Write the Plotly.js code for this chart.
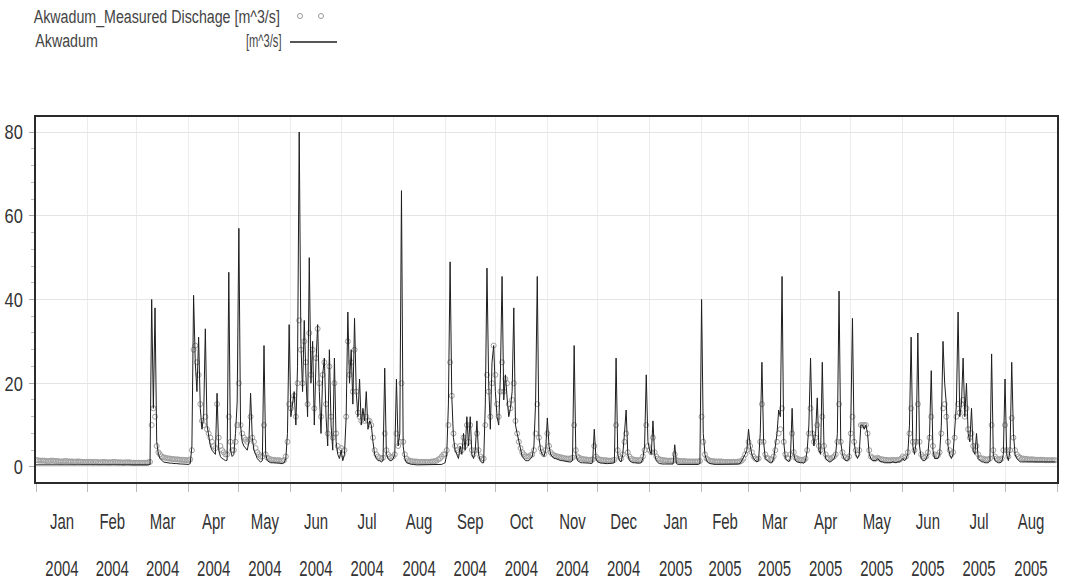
<!DOCTYPE html>
<html><head><meta charset="utf-8">
<script src="https://cdn.plot.ly/plotly-3.0.1.min.js"></script>
<style>html,body{margin:0;padding:0;background:#fff;}#chart{width:1065px;height:586px;}</style>
</head><body><div id="chart"></div>
<script>
// Daily discharge [m^3/s], one inner array per month (Jan..Dec 2004, Jan..Aug 2005)
const simQ2004 = [
 [0.5,0.5,0.5,0.5,0.5,0.5,0.5,0.5,0.5,0.5,0.5,0.5,0.5,0.4,0.4,0.4,0.4,0.4,0.4,0.4,0.4,0.4,0.4,0.4,0.4,0.4,0.4,0.4,0.4,0.4,0.4],
 [0.4,0.4,0.4,0.4,0.4,0.4,0.4,0.4,0.4,0.4,0.4,0.4,0.4,0.4,0.4,0.4,0.4,0.4,0.4,0.4,0.4,0.4,0.4,0.4,0.4,0.4,0.4,0.4,0.4],
 [0.4,0.4,0.4,0.4,0.4,0.4,0.4,0.5,0.6,40,14,38,6,3,2,1.5,1.2,1.1,1,1,0.9,0.9,0.8,0.8,0.8,0.7,0.7,0.7,0.7,0.6,0.6],
 [0.6,0.8,5,41,25,18,31,14,9,12,33,10,7,5,4,3.5,3,17.6,4,2.5,2,1.8,1.5,1.6,46.5,4,2.5,3,8,15.5],
 [57,10,6,5,4.5,4,6,17.6,7,4,3,2,1.5,1.2,1.5,29,3,1.5,1.2,1,1,1,0.9,1,0.9,0.8,0.8,1,2,8,34],
 [12,15,18,10,24,80,30,18,35,22,12,50,20,30,10,25,34,18,8,22,26,12,5,28,10,4,26,6,3,2],
 [4,1.5,3,12,37,20,28,15,35.5,18,12,21,10,14,11,18,9,11,10,6,3,2,1.5,1.5,1.2,1.5,23.6,3,2,1.5,1.5],
 [2,3,21,5,8,66,5,2,1,0.8,0.7,0.6,0.6,0.5,0.5,0.5,0.5,0.5,0.5,0.5,0.5,0.5,0.5,0.5,0.5,0.5,0.5,0.5,0.6,0.6,0.8],
 [1,3,15,49,17,7,4,3,2,5,3,8,4,12,5,12,3,2,4,11,3,1.5,1,1,15,47.5,20,9,25,29],
 [18,12,10,22,45.5,16,22,16.5,12,14,18,38,10,8,6,4,2.5,2,1.5,1.5,1.5,2,2.5,5,15.5,45.5,7,4,3,2.5,4],
 [11.7,5,3,2.5,2,2,1.8,1.6,1.5,1.5,1.4,1.3,1.3,1.2,1.2,1.5,29,3,1.5,1.2,1,1,1,0.9,0.9,0.9,0.8,1,9,2],
 [1.2,1,0.9,0.9,0.8,0.8,0.8,0.8,0.8,0.9,1,26,3,1.5,1.2,3,8,13.6,3,1.5,1.2,1,1,0.9,0.9,0.9,1,2,5,22,6]
];
const simQ2005 = [
 [4,3,11,3,1.5,1,0.8,0.7,0.7,0.7,0.7,0.7,0.7,0.7,0.7,5.3,0.8,0.6,0.6,0.6,0.6,0.6,0.6,0.6,0.6,0.6,0.6,0.6,0.6,0.6,0.8],
 [40,8,3,1.5,1,0.8,0.7,0.7,0.6,0.6,0.6,0.6,0.6,0.6,0.6,0.6,0.6,0.6,0.6,0.6,0.6,0.6,0.7,0.8,1.5,2,3,4],
 [9,5,3,2,1.5,1.2,1.5,8,25,6,2,1.5,1.2,1,1,2,4.5,8,13.6,12,45.5,6,2,1.5,1.2,2,14,3,1.5,1.2,1],
 [1,1,0.9,1.5,4,10,26,9,5,8,16.5,4,3,25,5,2,1.5,1.2,1.2,1.5,2,3,8,42,6,3,2,1.5,1.5,2],
 [10,35.5,6,3,2,3,10,10,9,10,8,3,2,1.5,1.5,1.5,2,1.5,1.2,1.2,1,1,1,1,1,1.2,1,1,1.2,1.2,1.5],
 [2,1.5,2,3,10,31,5,3,6,32,5,2,1.5,1.5,2,3,8,23,4,2,2,2,3,10,30,20,15,5,3,2],
 [3,8,15,37,12,15,26,12,20,8,6,14,4,3,8,2,1.5,1.2,1.2,1,1,1,1.5,27,3,1.5,1.2,1,1,1.2,3],
 [21,3,1.5,4,25,8,3,2,1.5,1.2,1.2,1.2,1.2,1.2,1.2,1.2,1.2,1.2,1.2,1.2,1.2,1.2,1.2,1.2,1.2,1.2,1.2,1.2,1.2,1.2,1.2]
];
const obsQ2004 = [
 [1.6,1.6,1.5,1.5,1.5,1.5,1.4,1.4,1.4,1.5,1.5,1.4,1.4,1.4,1.3,1.3,1.3,1.4,1.4,1.3,1.3,1.3,1.3,1.2,1.3,1.3,1.3,1.2,1.2,1.2,1.2],
 [1.2,1.2,1.2,1.1,1.2,1.2,1.1,1.1,1.1,1.2,1.2,1.1,1.1,1.1,1.1,1.2,1.2,1.1,1.1,1.1,1.1,1.0,1.1,1.1,1.1,1.1,1.0,1.0,1.0],
 [1.0,1.0,1.0,1.0,1.0,1.0,1.0,1.1,1.2,10,14,12,5,3.5,3,2.5,2.3,2.2,2.1,2,2,1.9,1.9,1.8,1.8,1.8,1.7,1.7,1.7,1.6,1.6],
 [1.6,1.8,4,28,29,25,22,15,11,10,12,9,8,7,6,5,4.5,15,7,5,4,3.5,3,3,12,6,4,4,6,10],
 [20,10,8,7,6.5,6,6.5,12,7,6,4.5,3.5,3,2.5,2.5,10,3,2.2,2,1.8,1.7,1.7,1.6,1.6,1.6,1.5,1.5,1.6,2.5,6,15],
 [14,16,17,12,20,35,28,20,30,25,15,32,22,28,14,26,33,20,12,22,25,15,8,24,12,7,20,8,5,4],
 [4.5,3,4,12,30,22,25,18,28,18,13,12,11,12,11,12,11,11,10,7,4,3,2.5,2.2,2,2.2,8,4,3,2.5,2.2],
 [2.5,3,8,5,6,20,6,3,2,1.6,1.5,1.4,1.3,1.3,1.3,1.2,1.2,1.2,1.2,1.2,1.2,1.2,1.2,1.3,1.3,1.4,1.5,1.8,2,2.5,3],
 [3,4,10,25,17,8,5,4,3.5,5,4,7,5,10,6,10,4,3,4,8,4,2.5,2,2,10,22,18,12,20,29],
 [22,15,12,18,25,18,21,20,15,14,16,20,11,8,6,4.5,3.5,3,2.5,2.5,2.5,2.8,3,4,8,15,7,4.5,3.5,3,4],
 [8,5,3.5,3,2.8,2.6,2.5,2.4,2.3,2.2,2.1,2,2,2,2,2.2,10,4,2.5,2.2,2,1.9,1.8,1.8,1.7,1.7,1.7,1.8,5,2.5],
 [2,1.8,1.7,1.6,1.6,1.6,1.5,1.5,1.5,1.6,1.7,10,4,2.5,2,3,6,8,3.5,2.5,2,1.8,1.7,1.6,1.6,1.6,1.7,2.5,4,10,5]
];
const obsQ2005 = [
 [4,3.5,7,3.5,2.5,2,1.8,1.7,1.6,1.6,1.5,1.5,1.5,1.5,1.5,3,1.6,1.5,1.4,1.4,1.4,1.4,1.3,1.3,1.3,1.3,1.3,1.3,1.3,1.3,1.4],
 [12,6,3,2,1.7,1.5,1.4,1.4,1.3,1.3,1.3,1.3,1.3,1.2,1.2,1.2,1.2,1.2,1.2,1.2,1.2,1.2,1.3,1.3,1.5,2,3,4],
 [6,5,3.5,2.5,2,1.8,2,6,15,6,3,2.2,2,1.8,1.8,2.5,4,6,8,9,14,6,3,2.2,2,3,8,3.5,2.2,2,1.8],
 [1.7,1.7,1.6,2,4,8,14,8,6,7,10,5,4,12,5,3,2.2,2,2,2.2,2.5,3,6,15,6,3.5,2.5,2.2,2,2.5],
 [8,12,6,4,3,4,10,10,10,10,8,4,2.5,2.2,2,2,2.2,2,1.8,1.8,1.7,1.7,1.6,1.6,1.6,1.7,1.6,1.6,1.7,1.7,2],
 [2.5,2.2,2.5,3.5,8,14,6,4,6,15,6,3,2.5,2.2,2.5,3.5,7,12,5,3,2.8,2.8,3.5,8,14,15,12,6,4,3],
 [3.5,7,12,15,13,15,16,12,14,9,7,8,5,4,5,3,2.2,2,2,1.8,1.8,1.8,2,10,4,2.5,2,1.8,1.8,2,4],
 [10,4,2.5,4,11.7,7,4,3,2.5,2.2,2,2,1.9,1.9,1.8,1.8,1.8,1.8,1.7,1.7,1.7,1.7,1.7,1.7,1.6,1.6,1.6,1.6,1.6,1.6,1.6]
];
const monthNames = ['Jan','Feb','Mar','Apr','May','Jun','Jul','Aug','Sep','Oct','Nov','Dec'];
const yTicks = [0, 20, 40, 60, 80];
const legendMeasured = 'Akwadum_Measured Dischage [m^3/s]';
const legendSimName = 'Akwadum';
const legendUnit = '[m^3/s]';

function flatten(year, months) {
  const x = [], y = [];
  months.forEach((vals, m) => vals.forEach((v, d) => {
    const dt = new Date(Date.UTC(year, m, d + 1));
    x.push(dt.toISOString().slice(0, 10));
    y.push(v);
  }));
  return {x, y};
}
const s1 = flatten(2004, simQ2004), s2 = flatten(2005, simQ2005);
const o1 = flatten(2004, obsQ2004), o2 = flatten(2005, obsQ2005);

const tickvals = [], monthText = [], yearText = [];
[[2004, 12], [2005, 8]].forEach(([yr, n]) => {
  for (let m = 0; m < n; m++) {
    const a = Date.UTC(yr, m, 1), b = Date.UTC(yr, m + 1, 1);
    tickvals.push((a + b) / 2);
    monthText.push(monthNames[m]);
    yearText.push(String(yr));
  }
});

const FONT = '"Liberation Sans", Arial, sans-serif';
const XRANGE = ['2004-01-01', '2005-09-01'];

const traces = [
  {x: o1.x.concat(o2.x), y: o1.y.concat(o2.y), type: 'scatter', mode: 'markers',
   marker: {symbol: 'circle-open', size: 5, color: '#a0a0a0', line: {width: 1, color: '#a0a0a0'}},
   showlegend: false, name: legendMeasured},
  {x: s1.x.concat(s2.x), y: s1.y.concat(s2.y), type: 'scatter', mode: 'lines',
   line: {color: '#1e1e1e', width: 1}, showlegend: false, name: legendSimName},
  {x: [], y: [], xaxis: 'x2', yaxis: 'y', type: 'scatter', mode: 'lines', showlegend: false, hoverinfo: 'skip'}
];

const L = 36, R = 8, T = 117, B = 104, W = 1065, H = 586;
const pw = W - L - R, ph = H - T - B;
const px = v => (v - L) / pw;
const py = v => (H - B - v) / ph;

const layout = {
  width: W, height: H,
  margin: {l: L, r: R, t: T, b: B, pad: 0},
  paper_bgcolor: '#fff', plot_bgcolor: '#fff',
  font: {family: FONT, size: 18, color: '#333'},
  showlegend: false,
  xaxis: {
    type: 'date', range: XRANGE,
    tickmode: 'array', tickvals: tickvals, ticktext: monthText, tickangle: 0,
    ticks: '', showgrid: false, ticklabelstandoff: 19,
    tickfont: {family: FONT, size: 22, color: '#333'},
    minor: {tickmode: 'linear', tick0: '2004-01-01', dtick: 'M1', ticks: 'outside', ticklen: 8,
            tickcolor: '#bbb', showgrid: true, gridcolor: '#ececec', gridwidth: 1},
    showline: true, mirror: true, linecolor: '#2a2a2a', linewidth: 2, zeroline: false
  },
  xaxis2: {
    type: 'date', range: XRANGE, overlaying: 'x', anchor: 'y', side: 'bottom',
    tickmode: 'array', tickvals: tickvals, ticktext: yearText, tickangle: 0,
    ticks: '', showgrid: false, showline: false, zeroline: false, ticklabelstandoff: 71,
    tickfont: {family: FONT, size: 22, color: '#333'}
  },
  yaxis: {
    range: [-3.6, 83.6], tickmode: 'array', tickvals: yTicks,
    ticks: 'outside', ticklen: 5, tickcolor: '#aaa', ticklabelstandoff: 2,
    tickfont: {family: FONT, size: 21, color: '#333'},
    minor: {dtick: 4, tick0: 0, ticks: 'outside', ticklen: 3, tickcolor: '#bbb', showgrid: false},
    showgrid: true, gridcolor: '#e4e4e4', gridwidth: 1,
    showline: true, mirror: true, linecolor: '#2a2a2a', linewidth: 2, zeroline: false
  },
  annotations: [
    {xref: 'paper', yref: 'paper', x: px(157), y: py(17), xanchor: 'center', yanchor: 'middle',
     text: legendMeasured, showarrow: false, font: {family: FONT, size: 18, color: '#444'}},
    {xref: 'paper', yref: 'paper', x: px(66), y: py(41), xanchor: 'center', yanchor: 'middle',
     text: legendSimName, showarrow: false, font: {family: FONT, size: 18, color: '#444'}},
    {xref: 'paper', yref: 'paper', x: px(263), y: py(41), xanchor: 'center', yanchor: 'middle',
     text: legendUnit, showarrow: false, font: {family: FONT, size: 18, color: '#444'}}
  ],
  shapes: [
    {type: 'circle', xref: 'paper', yref: 'paper', xsizemode: 'pixel', ysizemode: 'pixel',
     xanchor: px(300), yanchor: py(16), x0: -2.5, x1: 2.5, y0: -2.5, y1: 2.5,
     line: {color: '#9a9a9a', width: 1}},
    {type: 'circle', xref: 'paper', yref: 'paper', xsizemode: 'pixel', ysizemode: 'pixel',
     xanchor: px(321), yanchor: py(16), x0: -2.5, x1: 2.5, y0: -2.5, y1: 2.5,
     line: {color: '#9a9a9a', width: 1}},
    {type: 'line', xref: 'paper', yref: 'paper', x0: px(290), x1: px(337), y0: py(42), y1: py(42),
     line: {color: '#1e1e1e', width: 1.5}}
  ]
};

// Narrow the glyphs horizontally (the reference uses a condensed face)
function squeezeEl(el, r) {
  const n = el.getComputedTextLength();
  if (n > 0) {
    el.setAttribute('textLength', (n * r).toFixed(2));
    el.setAttribute('lengthAdjust', 'spacingAndGlyphs');
  }
}
function squeeze(sel, r) { document.querySelectorAll(sel).forEach(el => squeezeEl(el, r)); }

Plotly.newPlot('chart', traces, layout, {displayModeBar: false, staticPlot: true}).then(() => {
  squeeze('.xtick text', 0.68);
  squeeze('.x2tick text', 0.68);
  squeeze('.ytick text', 0.78);
  const ann = document.querySelectorAll('.annotation-text');
  const ratios = [0.79, 0.79, 0.62];
  ann.forEach((el, i) => squeezeEl(el, ratios[i] || 0.79));
});
</script>
</body></html>
